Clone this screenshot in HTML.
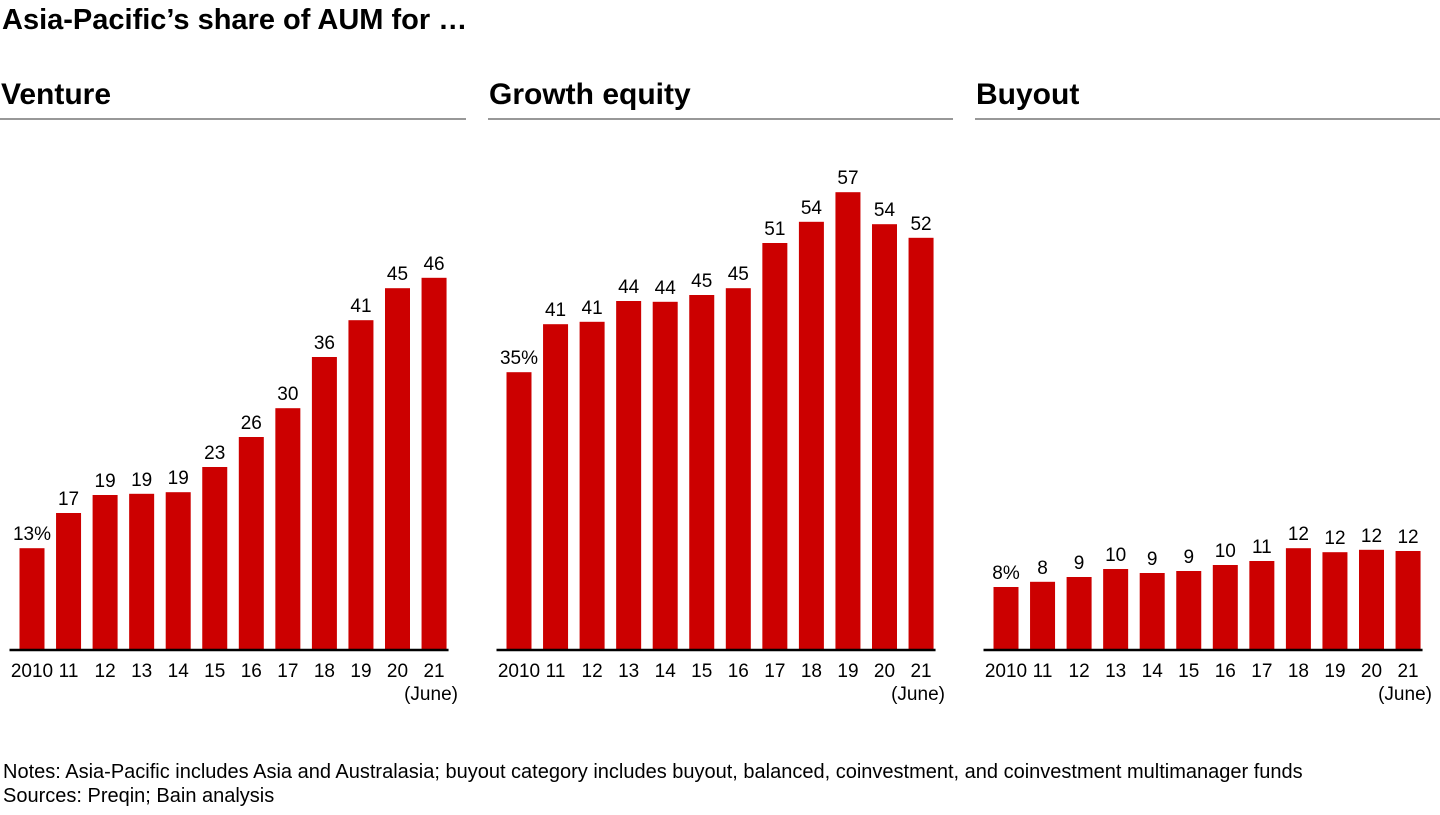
<!DOCTYPE html>
<html><head><meta charset="utf-8"><style>
body{margin:0;width:1440px;height:810px;background:#fff;font-family:"Liberation Sans",Arial,sans-serif;overflow:hidden}
svg text{font-family:"Liberation Sans",Arial,sans-serif}
</style></head><body>
<svg id="chart" width="1440" height="810">
<text x="2" y="29" font-size="29" font-weight="bold">Asia-Pacific’s share of AUM for …</text>
<text x="3" y="778" font-size="20">Notes: Asia-Pacific includes Asia and Australasia; buyout category includes buyout, balanced, coinvestment, and coinvestment multimanager funds</text>
<text x="3" y="802" font-size="20">Sources: Preqin; Bain analysis</text>
</svg>
<script>
const categories=["2010","11","12","13","14","15","16","17","18","19","20","21"];
const ventureValues=[12.6,17,19.25,19.4,19.6,22.75,26.5,30.1,36.5,41.1,45.1,46.4];
const ventureLabels=["13%","17","19","19","19","23","26","30","36","41","45","46"];
const growthValues=[34.6,40.6,40.9,43.5,43.4,44.25,45.1,50.75,53.4,57.1,53.1,51.4];
const growthLabels=["35%","41","41","44","44","45","45","51","54","57","54","52"];
const buyoutValues=[7.75,8.4,9,10,9.5,9.75,10.5,11,12.6,12.1,12.4,12.25];
const buyoutLabels=["8%","8","9","10","9","9","10","11","12","12","12","12"];
const panelTitles=["Venture","Growth equity","Buyout"];
const NS="http://www.w3.org/2000/svg";
const svg=document.getElementById('chart');
const baseY=649, pxPerUnit=8, pitch=36.55, barW=25;
function y(v){return baseY-v*pxPerUnit;}
function mk(tag,attrs){const e=document.createElementNS(NS,tag);for(const k in attrs)e.setAttribute(k,attrs[k]);svg.appendChild(e);return e;}
const panels=[{x0:0,x1:466,c0:32,vals:ventureValues,labs:ventureLabels,key:'venture'},
{x0:488,x1:953,c0:519,vals:growthValues,labs:growthLabels,key:'growth'},
{x0:975,x1:1440,c0:1006,vals:buyoutValues,labs:buyoutLabels,key:'buyout'}];
panels.forEach((p,pi)=>{
 const t=mk('text',{x:p.x0+1,y:104,'font-size':30,'font-weight':'bold'});t.textContent=panelTitles[pi];
 
 
 const l=mk('line',{x1:p.x0,x2:p.x1,y1:119,y2:119,stroke:'#777','stroke-width':1.5});
 
 
 p.vals.forEach((v,i)=>{
  const cx=p.c0+i*pitch;
  const r=mk('rect',{x:cx-barW/2,y:y(v),width:barW,height:baseY-y(v),fill:'#cc0000'});
  
  
  const vt=mk('text',{x:cx,y:y(v)-8,'font-size':19,'text-anchor':'middle'});vt.textContent=p.labs[i];
  
  
  const ct=mk('text',{x:cx,y:677,'font-size':19,'text-anchor':'middle'});ct.textContent=categories[i];
  
  
 });
 const jt=mk('text',{x:p.c0+11*pitch-3,y:700,'font-size':19,'text-anchor':'middle'});jt.textContent='(June)';
 
 
 const ax=mk('line',{x1:p.c0-barW/2-10,x2:p.c0+11*pitch+barW/2+2,y1:baseY+1,y2:baseY+1,stroke:'#000','stroke-width':2.5});
 
 
});
</script>
</body></html>
